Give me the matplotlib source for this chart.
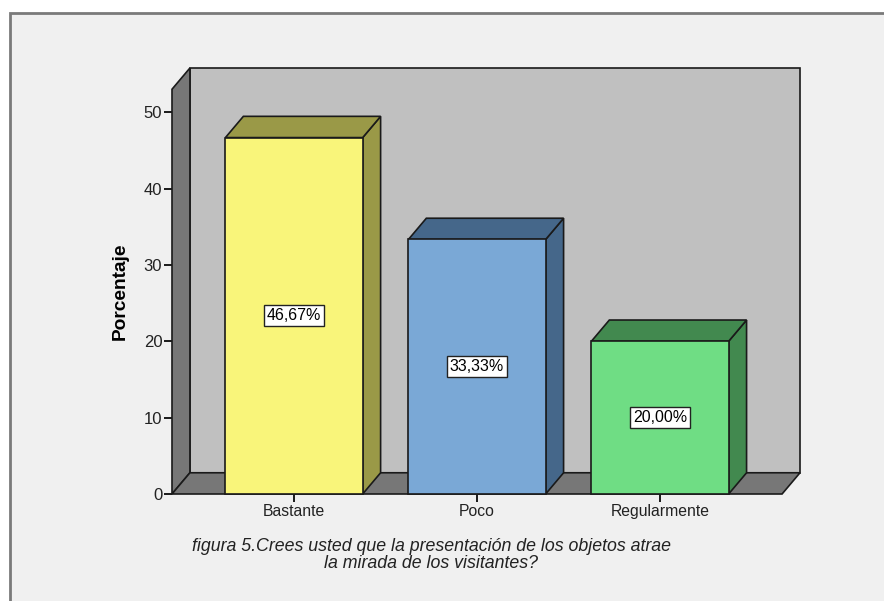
import numpy as np
import matplotlib
matplotlib.use("Agg")
import matplotlib.pyplot as plt
from matplotlib.patches import Polygon, Rectangle

plt.rcParams["font.family"] = ["Liberation Sans", "DejaVu Sans"]

# data
categories = ["Bastante", "Poco", "Regularmente"]
percent = [46.67, 33.33, 20.00]
labels = ["46,67%", "33,33%", "20,00%"]
front_colors = ["#f9f57a", "#7aa8d6", "#6fdd84"]
side_colors = ["#9a9947", "#45678a", "#42894f"]
yticks = [0, 10, 20, 30, 40, 50]

W, H = 884, 601
fig = plt.figure(figsize=(W / 100, H / 100), dpi=100)
fig.patch.set_facecolor("white")

# outer panel (drawn behind everything)
fig.patches.append(Rectangle((10 / W, -0.01), 1.0, 1.01 - 13 / H, transform=fig.transFigure,
                             facecolor="#f0f0f0", edgecolor="#7a7a7a", lw=2.0, zorder=-10))

ax = fig.add_axes([172 / W, 1 - 494 / H, (800 - 172) / W, (494 - 68) / H])
ax.set_facecolor("none")
ax.set_zorder(2)

x0, x1 = -0.667, 2.667
dx, dy = 0.098, 2.78
ytop = 53.0
ax.set_xlim(x0, x1 + dx)
ax.set_ylim(0, ytop + dy)

ec = "#1a1a1a"
lw = 1.2
# back wall, left wall, floor
walls = [
    ([(x0 + dx, dy), (x1 + dx, dy), (x1 + dx, ytop + dy), (x0 + dx, ytop + dy)], "#c0c0c0"),
    ([(x0, 0), (x0 + dx, dy), (x0 + dx, ytop + dy), (x0, ytop)], "#777777"),
    ([(x0, 0), (x1, 0), (x1 + dx, dy), (x0 + dx, dy)], "#777777"),
]
for pts, c in walls:
    ax.add_patch(Polygon(pts, closed=True, facecolor=c, edgecolor=ec, lw=lw, zorder=1, clip_on=False))

bw = 0.75
for i, v in enumerate(percent):
    l, r = i - bw / 2, i + bw / 2
    ax.add_patch(Polygon([(r, 0), (r + dx, dy), (r + dx, v + dy), (r, v)],
                         closed=True, facecolor=side_colors[i], edgecolor=ec, lw=lw, zorder=2, clip_on=False))
    ax.add_patch(Polygon([(l, v), (r, v), (r + dx, v + dy), (l + dx, v + dy)],
                         closed=True, facecolor=side_colors[i], edgecolor=ec, lw=lw, zorder=2, clip_on=False))
    ax.add_patch(Rectangle((l, 0), bw, v, facecolor=front_colors[i], edgecolor=ec, lw=lw, zorder=3, clip_on=False))
    ax.text(i, v / 2, labels[i], ha="center", va="center", fontsize=11.5, zorder=4,
            bbox=dict(boxstyle="square,pad=0.2", facecolor="white", edgecolor="#222222", lw=1.0))

for s in ax.spines.values():
    s.set_visible(False)
ax.set_yticks(yticks)
ax.set_xticks(range(len(categories)))
ax.set_xticklabels(categories, fontsize=11.3)
ax.tick_params(axis="y", length=5.5, width=1.4, labelsize=12, pad=1.5, color="#1a1a1a", labelcolor="#222222")
ax.tick_params(axis="x", length=5.5, width=1.4, pad=2, color="#1a1a1a", labelcolor="#222222")
ax.set_ylabel("Porcentaje", fontsize=13.8, fontweight="bold", va="center")
ax.yaxis.set_label_coords(-0.083, 0.477)

fig.text(431 / W, 1 - 555 / H, "figura 5.Crees usted que la presentación de los objetos atrae\nla mirada de los visitantes?",
         ha="center", va="center", fontsize=12.8, style="italic", color="#222222", linespacing=0.95)

fig.savefig("out.png", dpi=100)
